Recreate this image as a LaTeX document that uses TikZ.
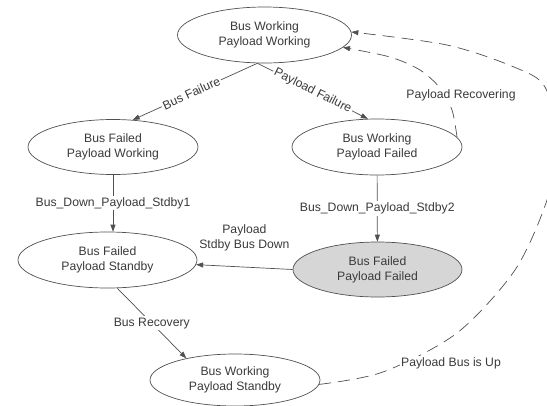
\documentclass[tikz,border=0pt]{standalone}
\usepackage{fontspec}
\setmainfont{Liberation Sans}
\usetikzlibrary{arrows.meta,shapes.geometric}
\definecolor{ink}{HTML}{3A3A3A}
\definecolor{edge}{HTML}{505050}
\definecolor{failfill}{HTML}{D6D6D6}
\begin{document}
\begin{tikzpicture}[x=1pt,y=-1pt,
  font=\fontsize{12.2}{15}\selectfont,
  state/.style={ellipse, draw=edge, line width=0.7pt, text=ink, align=center,
                inner sep=0pt, minimum width=170pt, minimum height=55pt},
  arr/.style={draw=edge, line width=0.7pt, -{Triangle[length=7pt,width=5pt]}},
  dasharr/.style={arr, dash pattern=on 12pt off 7pt},
  lbl/.style={fill=white, text=ink, inner sep=1.5pt}]
\clip (0,0) rectangle (547,405);
\fill[white] (0,0) rectangle (547,405);

% states
\node[state, minimum width=174pt, minimum height=56pt] (bwpw) at (264.5,35) {Bus Working\\Payload Working};
\node[state] (bfpw) at (113,147) {Bus Failed\\Payload Working};
\node[state, minimum height=56pt] (bwpf) at (377,147) {Bus Working\\Payload Failed};
\node[state, minimum width=179pt, minimum height=56pt] (bfps) at (107.5,260) {Bus Failed\\Payload Standby};
\node[state, fill=failfill, minimum width=169pt] (bfpf) at (377.5,269.5) {Bus Failed\\Payload Failed};
\node[state, minimum height=52pt] (bwps) at (235,380) {Bus Working\\Payload Standby};

% failure transitions
\draw[arr] (bwpw.256) -- node[lbl, sloped, pos=0.53] (lbf) {Bus Failure} (bfpw.54);
\draw[arr] (bwpw.256) -- node[lbl, sloped, pos=0.5] (lpf) {Payload Failure} (bwpf.108);
\draw[arr] (bfpw.south) -- node[lbl] (ls1) {Bus\_Down\_Payload\_Stdby1} (bfpw.south |- bfps.north);
\draw[arr] (bwpf) -- node[lbl] (ls2) {Bus\_Down\_Payload\_Stdby2} (bfpf);
\draw[arr] (bfpf.west) -- node[text=ink, align=center, yshift=29pt] (lsb) {Payload\\Stdby Bus Down} (bfps.-3);
\draw[arr] (bfps.-71) -- node[lbl] (lbr) {Bus Recovery} (bwps.156);

% recovery transitions (dashed)
\draw[dasharr] plot[smooth] coordinates {(bwpf.7) (452,110) (440,88) (420,70) (390,57) (bwpw.-9)};
\node[lbl] (lpr) at (461,95) {Payload Recovering};
\draw[dasharr] plot[smooth] coordinates {(bwps.-3) (383,372) (457,333) (515,270) (547,200)
  (557,143) (545,87) (514,67) (447,45) (bwpw.2)};
\node[lbl] (lbu) at (451,363) {Payload Bus is Up};
\end{tikzpicture}
\end{document}
